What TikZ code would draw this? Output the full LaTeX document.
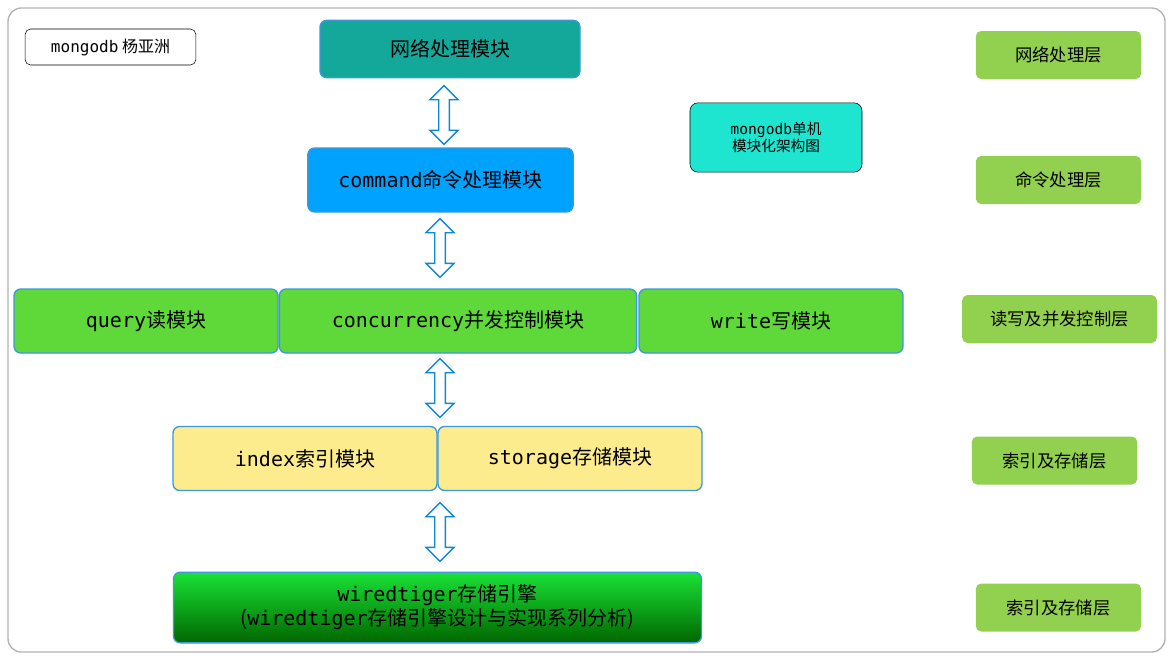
\documentclass[tikz,border=0pt]{standalone}
\usepackage{fontspec}
\setmainfont{Noto Sans CJK SC}
\setmonofont{DejaVu Sans Mono}
\usetikzlibrary{shapes.arrows}
\begin{document}
\begin{tikzpicture}[x=0.75pt,y=-0.75pt,
 box/.style={draw=cyan!70!blue!80,line width=1pt,rounded corners=5pt,font=\fontsize{15}{18}\selectfont},
 layer/.style={fill=lgreen,rounded corners=4pt,font=\fontsize{13}{16}\selectfont},
 darr/.style={double arrow,draw=cyan!70!blue,fill=white,line width=1pt,rotate=90,minimum height=44pt,minimum width=21pt,inner sep=3.5pt,double arrow head extend=6.5pt}]
\definecolor{lgreen}{HTML}{92D050}
\definecolor{teal1}{HTML}{14A89A}
\definecolor{blue1}{HTML}{00A2FF}
\definecolor{grn}{HTML}{5FD93A}
\definecolor{yel}{HTML}{FCEC8E}
\definecolor{aqua}{HTML}{1DE5CF}
\useasboundingbox (0,0) rectangle (1170,658);
\draw[gray!60,line width=1pt,rounded corners=10pt] (8,8) rectangle (1165,652);
\node[draw,rounded corners=4pt,minimum width=128pt,minimum height=27pt,font=\fontsize{12}{14}\selectfont] (sig) at (110.5,47) {\texttt{mongodb} 杨亚洲};
\node[draw,fill=aqua,rounded corners=6pt,minimum width=129pt,minimum height=52pt,align=center,font=\fontsize{11}{13}\selectfont] (note) at (776,137.5) {\texttt{mongodb}单机\\模块化架构图};
\node[box,fill=teal1,minimum width=195pt,minimum height=43pt] (net) at (450,49) {网络处理模块};
\node[box,fill=blue1,minimum width=199pt,minimum height=48pt] (cmd) at (440.5,180) {\texttt{command}命令处理模块};
\node[box,fill=grn,minimum width=198pt,minimum height=48pt] (q) at (146,321) {\texttt{query}读模块};
\node[box,fill=grn,minimum width=268pt,minimum height=48pt] (cc) at (458,321) {\texttt{concurrency}并发控制模块};
\node[box,fill=grn,minimum width=198pt,minimum height=48pt] (w) at (771,321) {\texttt{write}写模块};
\node[box,fill=yel,minimum width=198pt,minimum height=48pt] (idx) at (305,458.5) {\texttt{index}索引模块};
\node[box,fill=yel,minimum width=198pt,minimum height=48pt] (st) at (570,458.5) {\texttt{storage}存储模块};
\node[box,top color=green!75!teal!90,bottom color=green!40!black,minimum width=396pt,minimum height=53pt,align=center,inner sep=1pt] (wt) at (437.5,607.5) {\texttt{wiredtiger}存储引擎\\(\texttt{wiredtiger}存储引擎设计与实现系列分析)};
\node[darr] (a1) at (444,115) {};
\node[darr] (a2) at (440,248) {};
\node[darr] (a3) at (440,388) {};
\node[darr] (a4) at (440,532) {};
\node[layer,minimum width=124pt,minimum height=36pt] (l1) at (1058.5,55) {网络处理层};
\node[layer,minimum width=124pt,minimum height=36pt] (l2) at (1058.5,180) {命令处理层};
\node[layer,minimum width=146pt,minimum height=36pt] (l3) at (1059.5,319) {读写及并发控制层};
\node[layer,minimum width=124pt,minimum height=36pt] (l4) at (1054.5,460.5) {索引及存储层};
\node[layer,minimum width=124pt,minimum height=36pt] (l5) at (1058.5,607.5) {索引及存储层};
\end{tikzpicture}
\end{document}
